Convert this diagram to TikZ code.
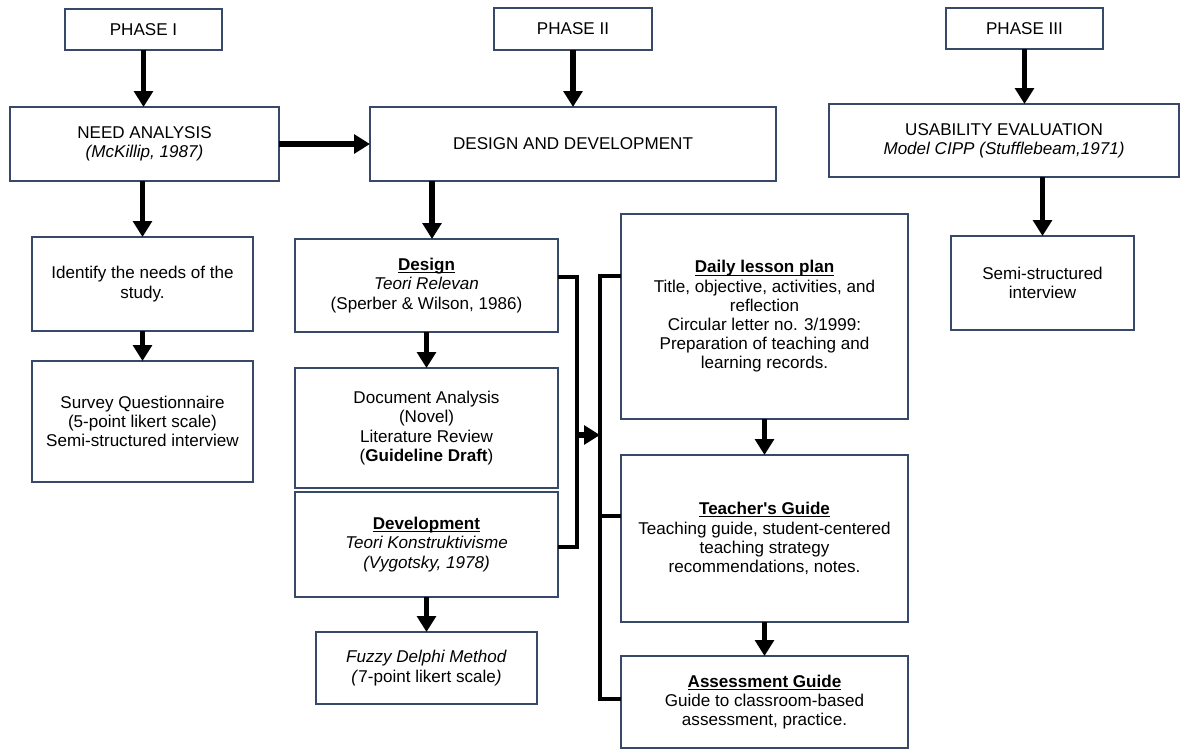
\documentclass[tikz,border=0pt]{standalone}
\usepackage{fontspec}
\setmainfont{Liberation Sans}
\usetikzlibrary{positioning,arrows.meta,calc}
\definecolor{boxline}{RGB}{56,72,105}
\newcommand{\ulhead}[1]{\underline{\raisebox{0pt}[\height][0pt]{\textbf{#1}}}}

\begin{document}
\begin{tikzpicture}[
    x=0.75pt, y=-0.75pt,
    font=\fontsize{12.8}{14.4}\selectfont,
    box/.style={rectangle, draw=boxline, line width=0.9pt, inner sep=2pt, outer sep=0pt, align=center},
    wh/.style 2 args={minimum width=#1*0.75pt, minimum height=#2*0.75pt},
    arrow/.style={-{Triangle[width=14pt,length=12pt]}, line width=4pt, black},
    link/.style={line width=2.8pt, black},
]
    \useasboundingbox[fill=white] (0,0) rectangle (1180,751);

    % Phase I
    \node[box, wh={157}{41}] (phase1) at (143.5,29.5) {PHASE I};
    \node[box, wh={269}{74}] (need) at (144.5,144) {NEED ANALYSIS\\ \textit{(McKillip, 1987)}};
    \node[box, wh={221}{94}] (identify) at (142.5,284) {Identify the needs of the\\ study.};
    \node[box, wh={221}{121}, below=22.5pt of identify] (survey) {Survey Questionnaire\\ (5-point likert scale)\\ Semi-structured interview};

    % Phase II
    \node[box, wh={158}{42}] (phase2) at (573,29) {PHASE II};
    \node[box, wh={406}{74}] (dd) at (573,144) {DESIGN AND DEVELOPMENT};
    \node[box, wh={263}{93}] (design) at (426.5,285.5) {\ulhead{Design}\\ \textit{Teori Relevan}\\ (Sperber \& Wilson, 1986)};
    \node[box, wh={263}{120}, below=27pt of design] (docan) {Document Analysis\\ (Novel)\\ Literature Review\\ (\textbf{Guideline Draft})};
    \node[box, wh={263}{105}, below=3pt of docan] (devel) {\ulhead{Development}\\ \textit{Teori Konstruktivisme}\\ \textit{(Vygotsky, 1978)}};
    \node[box, wh={221}{72}, below=26.25pt of devel] (fuzzy) {\textit{Fuzzy Delphi Method}\\ \textit{(}7-point likert scale\textit{)}};

    % Products
    \node[box, wh={287}{205}] (daily) at (764.5,316.5) {\ulhead{Daily lesson plan}\\ Title, objective, activities, and\\ reflection\\ Circular letter no. 3/1999:\\ Preparation of teaching and\\ learning records.};
    \node[box, wh={287}{167}, below=27pt of daily] (teacher) {\ulhead{Teacher\textquotesingle s Guide}\\ Teaching guide, student-centered\\ teaching strategy\\ recommendations, notes.};
    \node[box, wh={287}{92}, below=25.5pt of teacher] (assess) {\ulhead{Assessment Guide}\\ Guide to classroom-based\\ assessment, practice.};

    % Phase III
    \node[box, wh={157}{41}] (phase3) at (1024.5,28.5) {PHASE III};
    \node[box, wh={350}{73}] (usab) at (1004,140.5) {USABILITY EVALUATION\\ \textit{Model CIPP (Stufflebeam,1971)}};
    \node[box, wh={183}{94}] (semi) at (1042.5,283) {Semi-structured\\ interview};

    % Arrows, phase I
    \draw[arrow] (phase1.south) -- (phase1.south |- need.north);
    \draw[arrow] (need) -- (dd);
    \draw[arrow] (need.south -| identify.north) -- (identify.north);
    \draw[arrow] (identify) -- (survey);

    % Arrows, phase II
    \draw[arrow] (phase2) -- (dd);
    \draw[arrow] ($(design.north |- dd.south)+(5.5,0)$) -- ($(design.north)+(5.5,0)$);
    \draw[arrow] (design) -- (docan);
    \draw[arrow] (devel) -- (fuzzy);

    % Bracket to the products
    \coordinate (brL) at (577,435);
    \coordinate (brR) at (600,435);
    \draw[link] ([yshift=6.4pt]design.east) -| (brL) |- ([yshift=-1.9pt]devel.east);
    \draw[arrow] (brL) -- (brR);
    \draw[link] ([yshift=30.4pt]daily.west) -| (brR) |- ([yshift=2.25pt]assess.west);
    \draw[link] ([yshift=16.9pt]teacher.west) -- ++(-21,0);
    \draw[arrow] (daily) -- (teacher);
    \draw[arrow] (teacher) -- (assess);

    % Arrows, phase III
    \draw[arrow] (phase3.south) -- (phase3.south |- usab.north);
    \draw[arrow] (usab.south -| semi.north) -- (semi.north);
\end{tikzpicture}
\end{document}
